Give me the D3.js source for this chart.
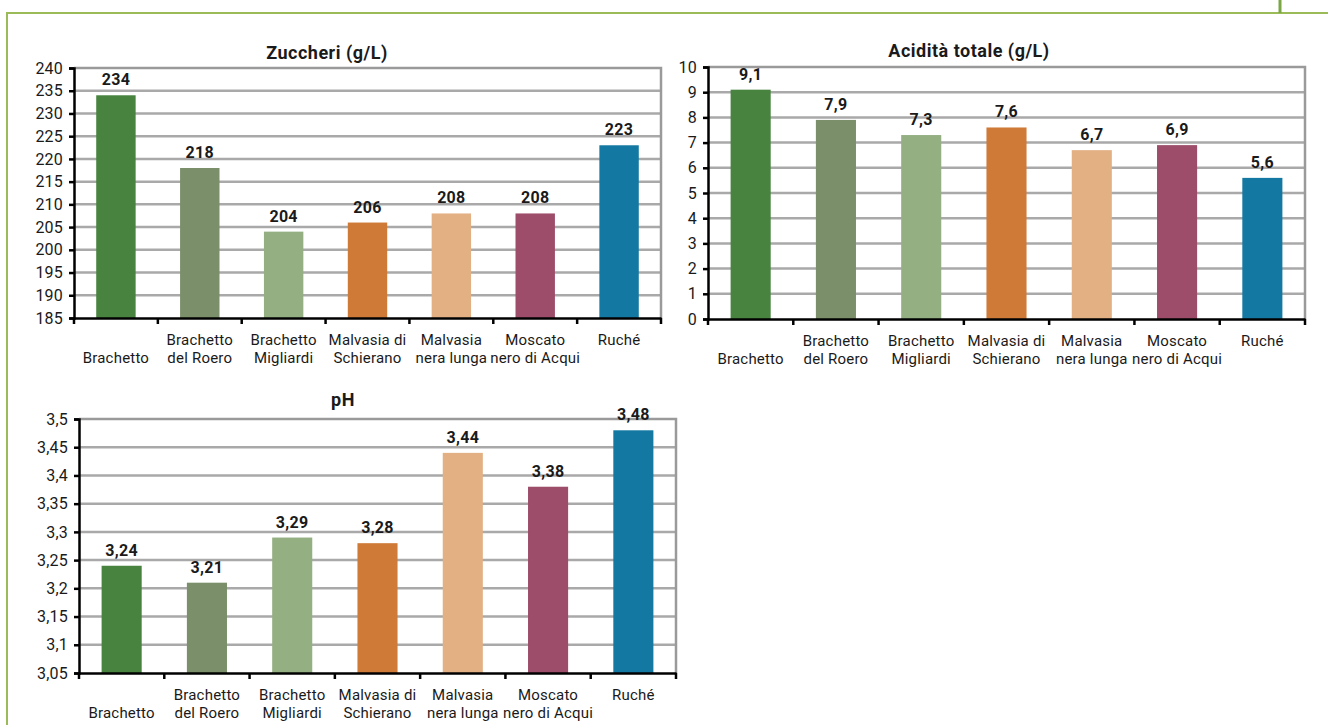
<!DOCTYPE html>
<html>
<head>
<meta charset="utf-8">
<script src="https://cdn.jsdelivr.net/npm/d3@7"></script>
<style>
  html, body { margin: 0; padding: 0; background: #ffffff; }
  svg { display: block; font-family: Roboto, "Liberation Sans", sans-serif; }
</style>
</head>
<body>
<svg id="chart" width="1328" height="725"></svg>
<script>
// Varietà (etichette dell'asse, divise su due righe)
const categories = [
  "Brachetto", "Brachetto del Roero", "Brachetto Migliardi", "Malvasia di Schierano",
  "Malvasia nera lunga", "Moscato nero di Acqui", "Ruché"
];
const categoryLines = [
  ["", "Brachetto"], ["Brachetto", "del Roero"], ["Brachetto", "Migliardi"],
  ["Malvasia di", "Schierano"], ["Malvasia", "nera lunga"], ["Moscato", "nero di Acqui"], ["Ruché"]
];

// Valori per varietà
const zuccheri = [234, 218, 204, 206, 208, 208, 223];
const acidita = [9.1, 7.9, 7.3, 7.6, 6.7, 6.9, 5.6];
const ph = [3.24, 3.21, 3.29, 3.28, 3.44, 3.38, 3.48];

// Valori delle tacche sugli assi verticali
const zuccheriTicks = [185, 190, 195, 200, 205, 210, 215, 220, 225, 230, 235, 240];
const aciditaTicks = [0, 1, 2, 3, 4, 5, 6, 7, 8, 9, 10];
const phTicks = [3.05, 3.1, 3.15, 3.2, 3.25, 3.3, 3.35, 3.4, 3.45, 3.5];

// Un colore per varietà
const barColors = ["#48833f", "#7b8f6a", "#94b083", "#cf7a37", "#e2b083", "#9d4c69", "#1479a2"];

const it = d3.formatLocale({ decimal: ",", thousands: ".", grouping: [3], currency: ["€", ""] });
const fmt = it.format("~g");

const svg = d3.select("#chart");

// Cornice verde della pagina
const frame = svg.append("g").attr("fill", "none");
frame.append("path").attr("d", "M7,725 V13 H1328").attr("stroke", "#9bbb59").attr("stroke-width", 2);
frame.append("line").attr("x1", 1280).attr("x2", 1280).attr("y1", 0).attr("y2", 13)
  .attr("stroke", "#7ba646").attr("stroke-width", 3);

const panels = [
  { title: "Zuccheri (g/L)", values: zuccheri, ticks: zuccheriTicks, domain: [185, 240],
    left: 74, right: 661, top: 68, bottom: 318, titleX: 327, titleY: 59 },
  { title: "Acidità totale (g/L)", values: acidita, ticks: aciditaTicks, domain: [0, 10],
    left: 708, right: 1305, top: 67, bottom: 319, titleX: 969, titleY: 57 },
  { title: "pH", values: ph, ticks: phTicks, domain: [3.05, 3.5],
    left: 79, right: 676, top: 419, bottom: 673, titleX: 343, titleY: 406 }
];

const textColor = "#1a1a1a";

panels.forEach(p => {
  const g = svg.append("g");

  const x = d3.scaleBand().domain(categories).range([p.left, p.right])
    .paddingInner(0.53).paddingOuter(0.265);
  const y = d3.scaleLinear().domain(p.domain).range([p.bottom, p.top]);

  // Griglia orizzontale
  g.append("g").selectAll("line").data(p.ticks.slice(1, -1)).join("line")
    .attr("x1", p.left).attr("x2", p.right)
    .attr("y1", d => y(d)).attr("y2", d => y(d))
    .attr("stroke", "#a9a9a9").attr("stroke-width", 2.5);

  // Bordo dell'area del grafico (alto e destra)
  g.append("path")
    .attr("d", `M${p.left},${y(p.domain[1])} H${p.right} V${p.bottom}`)
    .attr("fill", "none").attr("stroke", "#9a9a9a").attr("stroke-width", 2.5);

  // Barre
  g.append("g").selectAll("rect").data(p.values).join("rect")
    .attr("x", (d, i) => x(categories[i]))
    .attr("width", x.bandwidth())
    .attr("y", d => y(d))
    .attr("height", d => y(p.domain[0]) - y(d))
    .attr("fill", (d, i) => barColors[i]);

  // Etichette dei valori
  g.append("g").selectAll("text").data(p.values).join("text")
    .attr("x", (d, i) => x(categories[i]) + x.bandwidth() / 2)
    .attr("y", d => y(d) - 10)
    .attr("text-anchor", "middle")
    .attr("font-size", 16).attr("font-weight", "bold").attr("fill", textColor)
    .attr("letter-spacing", 0.3)
    .text(d => fmt(d));

  // Asse verticale
  const yAxis = g.append("g").attr("transform", `translate(${p.left},0)`)
    .call(d3.axisLeft(y).tickValues(p.ticks).tickFormat(fmt).tickSize(5).tickPadding(6));
  yAxis.select(".domain").attr("stroke", "#000").attr("stroke-width", 2.5);
  yAxis.selectAll(".tick line").attr("stroke", "#000").attr("stroke-width", 2.5);
  yAxis.selectAll(".tick text").attr("font-size", 16).attr("fill", textColor)
    .attr("font-family", "Roboto, sans-serif").attr("letter-spacing", 0.2);

  // Asse orizzontale con tacche ai confini delle categorie
  const xAxis = g.append("g").attr("transform", `translate(0,${p.bottom})`)
    .call(d3.axisBottom(x).tickSize(0).tickFormat(""));
  xAxis.select(".domain").attr("stroke", "#000").attr("stroke-width", 2.5);
  const bounds = categories.map(c => x(c) - (x.step() - x.bandwidth()) / 2).concat([p.right]);
  g.append("g").selectAll("line").data(bounds).join("line")
    .attr("x1", d => d).attr("x2", d => d)
    .attr("y1", p.bottom).attr("y2", p.bottom + 6)
    .attr("stroke", "#000").attr("stroke-width", 2.5);

  // Nomi delle varietà
  const labels = g.append("g").selectAll("text").data(categoryLines).join("text")
    .attr("text-anchor", "middle").attr("font-size", 15).attr("fill", textColor)
    .attr("letter-spacing", 0.2);
  labels.each(function (lines, i) {
    const t = d3.select(this);
    const cx = x(categories[i]) + x.bandwidth() / 2;
    lines.forEach((ln, k) => {
      t.append("tspan").attr("x", cx).attr("y", p.bottom + 27 + k * 18).text(ln);
    });
  });

  // Titolo
  g.append("text").attr("x", p.titleX).attr("y", p.titleY)
    .attr("text-anchor", "middle").attr("font-size", 18).attr("font-weight", "bold")
    .attr("letter-spacing", 0.5)
    .attr("fill", textColor).text(p.title);
});
</script>
</body>
</html>
